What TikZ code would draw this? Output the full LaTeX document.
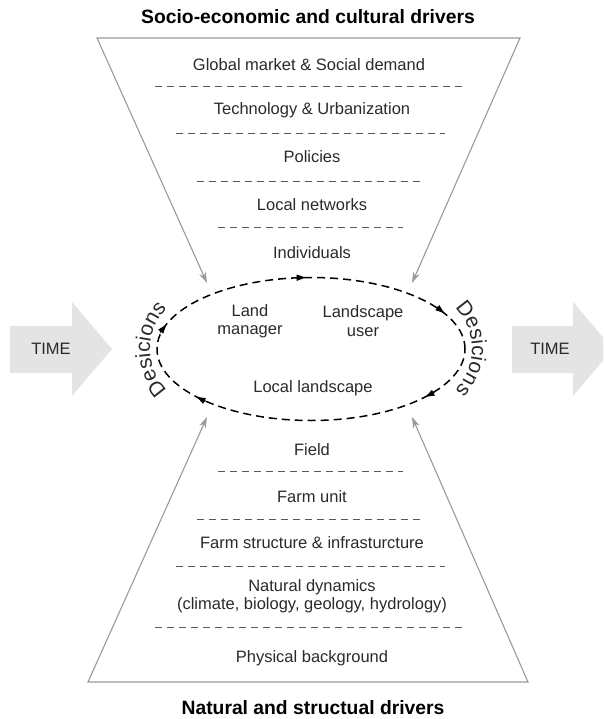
\documentclass[tikz,border=0pt]{standalone}
\usepackage{fontspec}
\setmainfont{Liberation Sans}
\usetikzlibrary{arrows.meta,decorations.text}
\definecolor{funnel}{HTML}{9A9A9A}
\definecolor{timefill}{HTML}{E4E4E4}
\definecolor{txt}{HTML}{2A2A2A}
\begin{document}
\begin{tikzpicture}[x=1pt,y=1pt,
  lbl/.style={text=txt,font=\fontsize{16.5}{18.5}\selectfont,align=center,inner sep=0pt},
  heading/.style={text=black,font=\bfseries\fontsize{19.3}{22}\selectfont,inner sep=0pt},
  sep/.style={draw=black!65,line width=0.9pt,dash pattern=on 7pt off 5pt},
  funnelline/.style={draw=funnel,line width=1.1pt,line join=miter},
  loopline/.style={line width=1.5pt,dash pattern=on 8pt off 5pt},
  looptip/.style={-{Triangle[length=9pt,width=6pt]},line width=1.5pt},
  timearrow/.style={fill=timefill},
  curvedtext/.style={decorate,decoration={text along path,text color=txt,
      text={|\fontsize{21}{21}\selectfont|Desicions},text align=center}},
]
\useasboundingbox (0,0) rectangle (603,-719);
\clip (0,0) rectangle (603,-719);

% time arrows
\fill[timearrow] (10,-326) -- (72,-326) -- (72,-302) -- (112,-349) -- (72,-396) -- (72,-373) -- (10,-373) -- cycle;
\fill[timearrow] (512,-326) -- (573,-326) -- (573,-302) -- (613,-349) -- (573,-396) -- (573,-373) -- (512,-373) -- cycle;
\node[lbl] (timeL) at (51,-349) {TIME};
\node[lbl] (timeR) at (550,-349) {TIME};

% funnel corners
\coordinate (tl) at (97,-38);
\coordinate (tr) at (520,-38);
\coordinate (tlTip) at (207,-283);
\coordinate (trTip) at (412,-283);
\coordinate (bl) at (88,-682);
\coordinate (br) at (528,-682);
\coordinate (blTip) at (207,-417);
\coordinate (brTip) at (412,-417);

\draw[funnelline,{Stealth[length=11pt,width=7pt]}-{Stealth[length=11pt,width=7pt]}]
  (tlTip) -- (tl) -- (tr) -- (trTip);
\draw[funnelline,{Stealth[length=11pt,width=7pt]}-{Stealth[length=11pt,width=7pt]}]
  (blTip) -- (bl) -- (br) -- (brTip);

% headings
\node[heading] (top) at (308,-17) {Socio-economic and cultural drivers};
\node[heading] (bottom) at (313,-708) {Natural and structual drivers};

% upper levels
\node[lbl] (market) at (309,-65) {Global market \& Social demand};
\draw[sep] (155,-86) -- (467,-86);
\node[lbl] (tech) at (312,-110) {Technology \& Urbanization};
\draw[sep] (176,-133) -- (445,-133);
\node[lbl] (policies) at (312,-157) {Policies};
\draw[sep] (197,-181) -- (423,-181);
\node[lbl] (networks) at (312,-205) {Local networks};
\draw[sep] (218,-227) -- (403,-227);
\node[lbl] (individuals) at (312,-253) {Individuals};

% lower levels
\node[lbl] (field) at (312,-450) {Field};
\draw[sep] (218,-471) -- (403,-471);
\node[lbl] (farm) at (312,-497) {Farm unit};
\draw[sep] (197,-519) -- (423,-519);
\node[lbl] (structure) at (312,-543) {Farm structure \& infrasturcture};
\draw[sep] (176,-566) -- (445,-566);
\node[lbl] (natural) at (312,-596) {Natural dynamics\\(climate, biology, geology, hydrology)};
\draw[sep] (155,-627) -- (467,-627);
\node[lbl] (physical) at (312,-658) {Physical background};

% decision loop
\draw[loopline] (311,-349) ellipse [x radius=154, y radius=71.5];
\foreach \t in {92,30,-42,222,160} {
  \pgfmathsetmacro\dx{1.54*sin(\t)}
  \pgfmathsetmacro\dy{-0.715*cos(\t)}
  \pgfmathsetmacro\n{sqrt(\dx*\dx+\dy*\dy)}
  \draw[looptip] ({311+154*cos(\t)-10*\dx/\n},{-349+71.5*sin(\t)-10*\dy/\n})
    -- ({311+154*cos(\t)},{-349+71.5*sin(\t)});
}
\node[lbl] (manager) at (250,-321) {Land\\manager};
\node[lbl] (user) at (363,-321) {Landscape\\user};
\node[lbl] (local) at (313,-388) {Local landscape};

% curved labels
\path[curvedtext] (171.91,-393.92) arc[start angle=232,end angle=128,radius=57];
\path[curvedtext] (453.14,-306.64) arc[start angle=48,end angle=-48,radius=57];
\end{tikzpicture}
\end{document}
